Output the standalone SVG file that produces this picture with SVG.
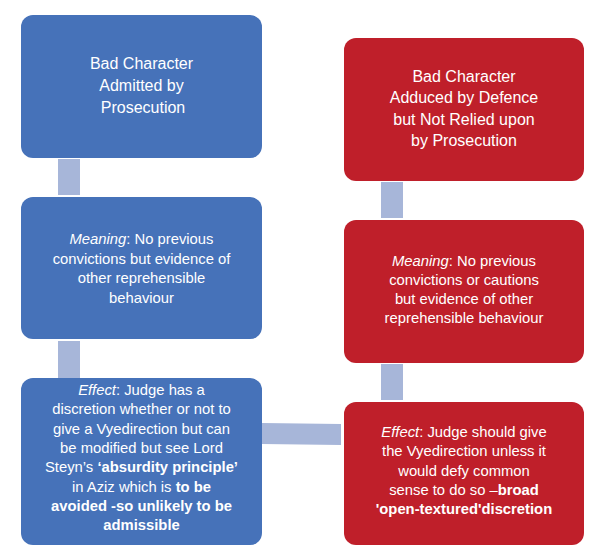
<svg xmlns="http://www.w3.org/2000/svg" width="610" height="549" viewBox="0 0 610 549">
<style>
.blue{fill:#4672B9}
.red{fill:#BF1F2A}
.conn{fill:#A7B6D9}
text{font-family:"Liberation Sans",Arial,sans-serif;fill:#FFFFFF;text-anchor:middle}
.t16{font-size:16px}
.t15{font-size:14.8px}
.b{font-weight:bold}
.i{font-style:italic}
</style>
<rect width="610" height="549" fill="#FFFFFF"/>
<g id="connectors">
<rect class="conn" x="58" y="159" width="22" height="36"/>
<rect class="conn" x="58" y="341" width="22" height="37"/>
<rect class="conn" x="381" y="182" width="22" height="36"/>
<rect class="conn" x="381" y="364" width="22" height="36"/>
<polygon class="conn" points="262,423 341,424 341,445 262,444"/>
</g>
<g id="left1">
<rect class="blue" x="21" y="15" width="241" height="143" rx="12"/>
<text class="t16"><tspan x="141.5" y="69">Bad Character</tspan><tspan x="141.5" y="91">Admitted by</tspan><tspan x="143" y="113">Prosecution</tspan></text>
</g>
<g id="left2">
<rect class="blue" x="21" y="197" width="241" height="142" rx="12"/>
<text class="t15"><tspan x="141.5" y="244"><tspan class="i">Meaning</tspan>: No previous</tspan><tspan x="141.5" y="263.5">convictions but evidence of</tspan><tspan x="141.5" y="283">other reprehensible</tspan><tspan x="141.5" y="302.5">behaviour</tspan></text>
</g>
<g id="left3">
<rect class="blue" x="21" y="378" width="241" height="167" rx="12"/>
<text class="t15"><tspan x="141.5" y="395"><tspan class="i">Effect</tspan>: Judge has a</tspan><tspan x="141.5" y="414.3">discretion whether or not to</tspan><tspan x="141.5" y="433.6">give a Vyedirection but can</tspan><tspan x="141.5" y="452.9">be modified but see Lord</tspan><tspan x="141.5" y="472.2">Steyn’s <tspan class="b">‘absurdity principle’</tspan></tspan><tspan x="141.5" y="491.5">in Aziz which is <tspan class="b">to be</tspan></tspan><tspan x="141.5" y="510.8" class="b">avoided -so unlikely to be</tspan><tspan x="141.5" y="530.1" class="b">admissible</tspan></text>
</g>
<g id="right1">
<rect class="red" x="344" y="38" width="240" height="143" rx="12"/>
<text class="t16"><tspan x="464" y="82">Bad Character</tspan><tspan x="464" y="103.3">Adduced by Defence</tspan><tspan x="464" y="124.6">but Not Relied upon</tspan><tspan x="464" y="146">by Prosecution</tspan></text>
</g>
<g id="right2">
<rect class="red" x="344" y="220" width="240" height="143" rx="12"/>
<text class="t15"><tspan x="464" y="266"><tspan class="i">Meaning</tspan>: No previous</tspan><tspan x="464" y="285">convictions or cautions</tspan><tspan x="464" y="304">but evidence of other</tspan><tspan x="464" y="323">reprehensible behaviour</tspan></text>
</g>
<g id="right3">
<rect class="red" x="344" y="402" width="240" height="143" rx="12"/>
<text class="t15"><tspan x="464" y="437"><tspan class="i">Effect</tspan>: Judge should give</tspan><tspan x="464" y="456.3">the Vyedirection unless it</tspan><tspan x="464" y="475.6">would defy common</tspan><tspan x="464" y="494.9">sense to do so –<tspan class="b">broad</tspan></tspan><tspan x="464" y="514.2" class="b">'open-textured'discretion</tspan></text>
</g>
</svg>
